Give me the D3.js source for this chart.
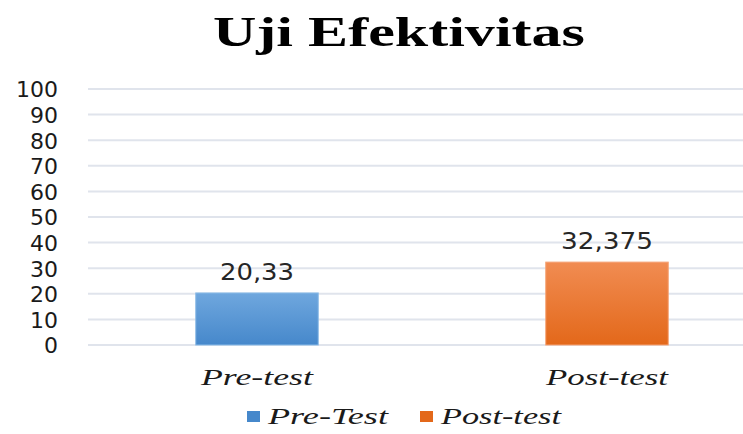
<!DOCTYPE html>
<html>
<head>
<meta charset="utf-8">
<script src="https://cdnjs.cloudflare.com/ajax/libs/d3/7.8.5/d3.min.js"></script>
<style>
  body { margin: 0; background: #fff; }
</style>
</head>
<body>
<div id="chart"></div>
<script>
var categories = ["Pre-test", "Post-test"];
var values = [20.33, 32.375];
var valueLabels = ["20,33", "32,375"];
var legendNames = ["Pre-Test", "Post-test"];
var yTicks = [0, 10, 20, 30, 40, 50, 60, 70, 80, 90, 100];

var width = 743, height = 434;

var svg = d3.select("#chart").append("svg")
    .attr("width", width)
    .attr("height", height);

var defs = svg.append("defs");
var grads = [["#6fa7de", "#4688cb"], ["#f18c52", "#e3681a"]];
grads.forEach(function (g, i) {
    var lg = defs.append("linearGradient")
        .attr("id", "grad" + i)
        .attr("x1", 0).attr("y1", 0).attr("x2", 0).attr("y2", 1);
    lg.append("stop").attr("offset", "0%").attr("stop-color", g[0]);
    lg.append("stop").attr("offset", "100%").attr("stop-color", g[1]);
});

// title
svg.append("text")
    .attr("x", 399)
    .attr("y", 46)
    .attr("text-anchor", "middle")
    .attr("font-family", "Liberation Serif")
    .attr("font-weight", "bold")
    .attr("font-size", 43)
    .attr("textLength", 372)
    .attr("lengthAdjust", "spacingAndGlyphs")
    .text("Uji Efektivitas");

var y = d3.scaleLinear()
    .domain([0, 100])
    .range([345, 89]);

var x = d3.scaleBand()
    .domain(categories)
    .range([82, 782]);

// grid lines
svg.append("g").selectAll("line")
    .data(yTicks)
    .enter().append("line")
    .attr("x1", 88)
    .attr("x2", width)
    .attr("y1", function (d) { return y(d); })
    .attr("y2", function (d) { return y(d); })
    .attr("stroke", "#e0e4ec")
    .attr("stroke-width", 2);

// y axis labels
var yAxis = svg.append("g")
    .attr("transform", "translate(58,0)")
    .call(d3.axisLeft(y).tickValues(yTicks).tickSize(0).tickPadding(0));
yAxis.select(".domain").remove();
yAxis.selectAll("text")
    .attr("font-family", "DejaVu Sans")
    .attr("font-size", 22)
    .attr("dy", "0.36em")
    .attr("fill", "#1a1a1a");

var barW = x.bandwidth() * 0.35;

svg.append("g").selectAll("rect")
    .data(values)
    .enter().append("rect")
    .attr("x", function (d, i) { return x(categories[i]) + x.bandwidth() / 2 - barW / 2; })
    .attr("y", function (d) { return y(d); })
    .attr("width", barW)
    .attr("height", function (d) { return y(0) - y(d); })
    .attr("fill", function (d, i) { return "url(#grad" + i + ")"; })
    .attr("stroke", function (d, i) { return i === 0 ? "#8bbbe6" : "#f5a274"; })
    .attr("stroke-width", 1);

// value labels
svg.append("g").selectAll("text")
    .data(values)
    .enter().append("text")
    .attr("x", function (d, i) { return x(categories[i]) + x.bandwidth() / 2; })
    .attr("y", function (d) { return y(d) - 13; })
    .attr("text-anchor", "middle")
    .attr("font-family", "DejaVu Sans")
    .attr("font-size", 23)
    .attr("textLength", function (d, i) { return i === 0 ? 74 : 92; })
    .attr("lengthAdjust", "spacingAndGlyphs")
    .attr("fill", "#262626")
    .text(function (d, i) { return valueLabels[i]; });

// category labels
svg.append("g").selectAll("text")
    .data(categories)
    .enter().append("text")
    .attr("x", function (d) { return x(d) + x.bandwidth() / 2; })
    .attr("y", 385)
    .attr("text-anchor", "middle")
    .attr("font-family", "Liberation Serif")
    .attr("font-style", "italic")
    .attr("font-size", 24)
    .attr("textLength", function (d, i) { return i === 0 ? 112 : 122; })
    .attr("lengthAdjust", "spacingAndGlyphs")
    .attr("fill", "#1a1a1a")
    .text(function (d) { return d; });

// legend
var legendX = [247, 420];
var legendW = [120, 120];
var legend = svg.append("g").selectAll("g")
    .data(legendNames)
    .enter().append("g")
    .attr("transform", function (d, i) { return "translate(" + legendX[i] + ",411)"; });
legend.append("rect")
    .attr("width", 13)
    .attr("height", 11)
    .attr("fill", function (d, i) { return grads[i][1]; });
legend.append("text")
    .attr("x", 21)
    .attr("y", 13)
    .attr("font-family", "Liberation Serif")
    .attr("font-style", "italic")
    .attr("font-size", 24)
    .attr("textLength", function (d, i) { return legendW[i]; })
    .attr("lengthAdjust", "spacingAndGlyphs")
    .attr("fill", "#1a1a1a")
    .text(function (d) { return d; });
</script>
</body>
</html>
